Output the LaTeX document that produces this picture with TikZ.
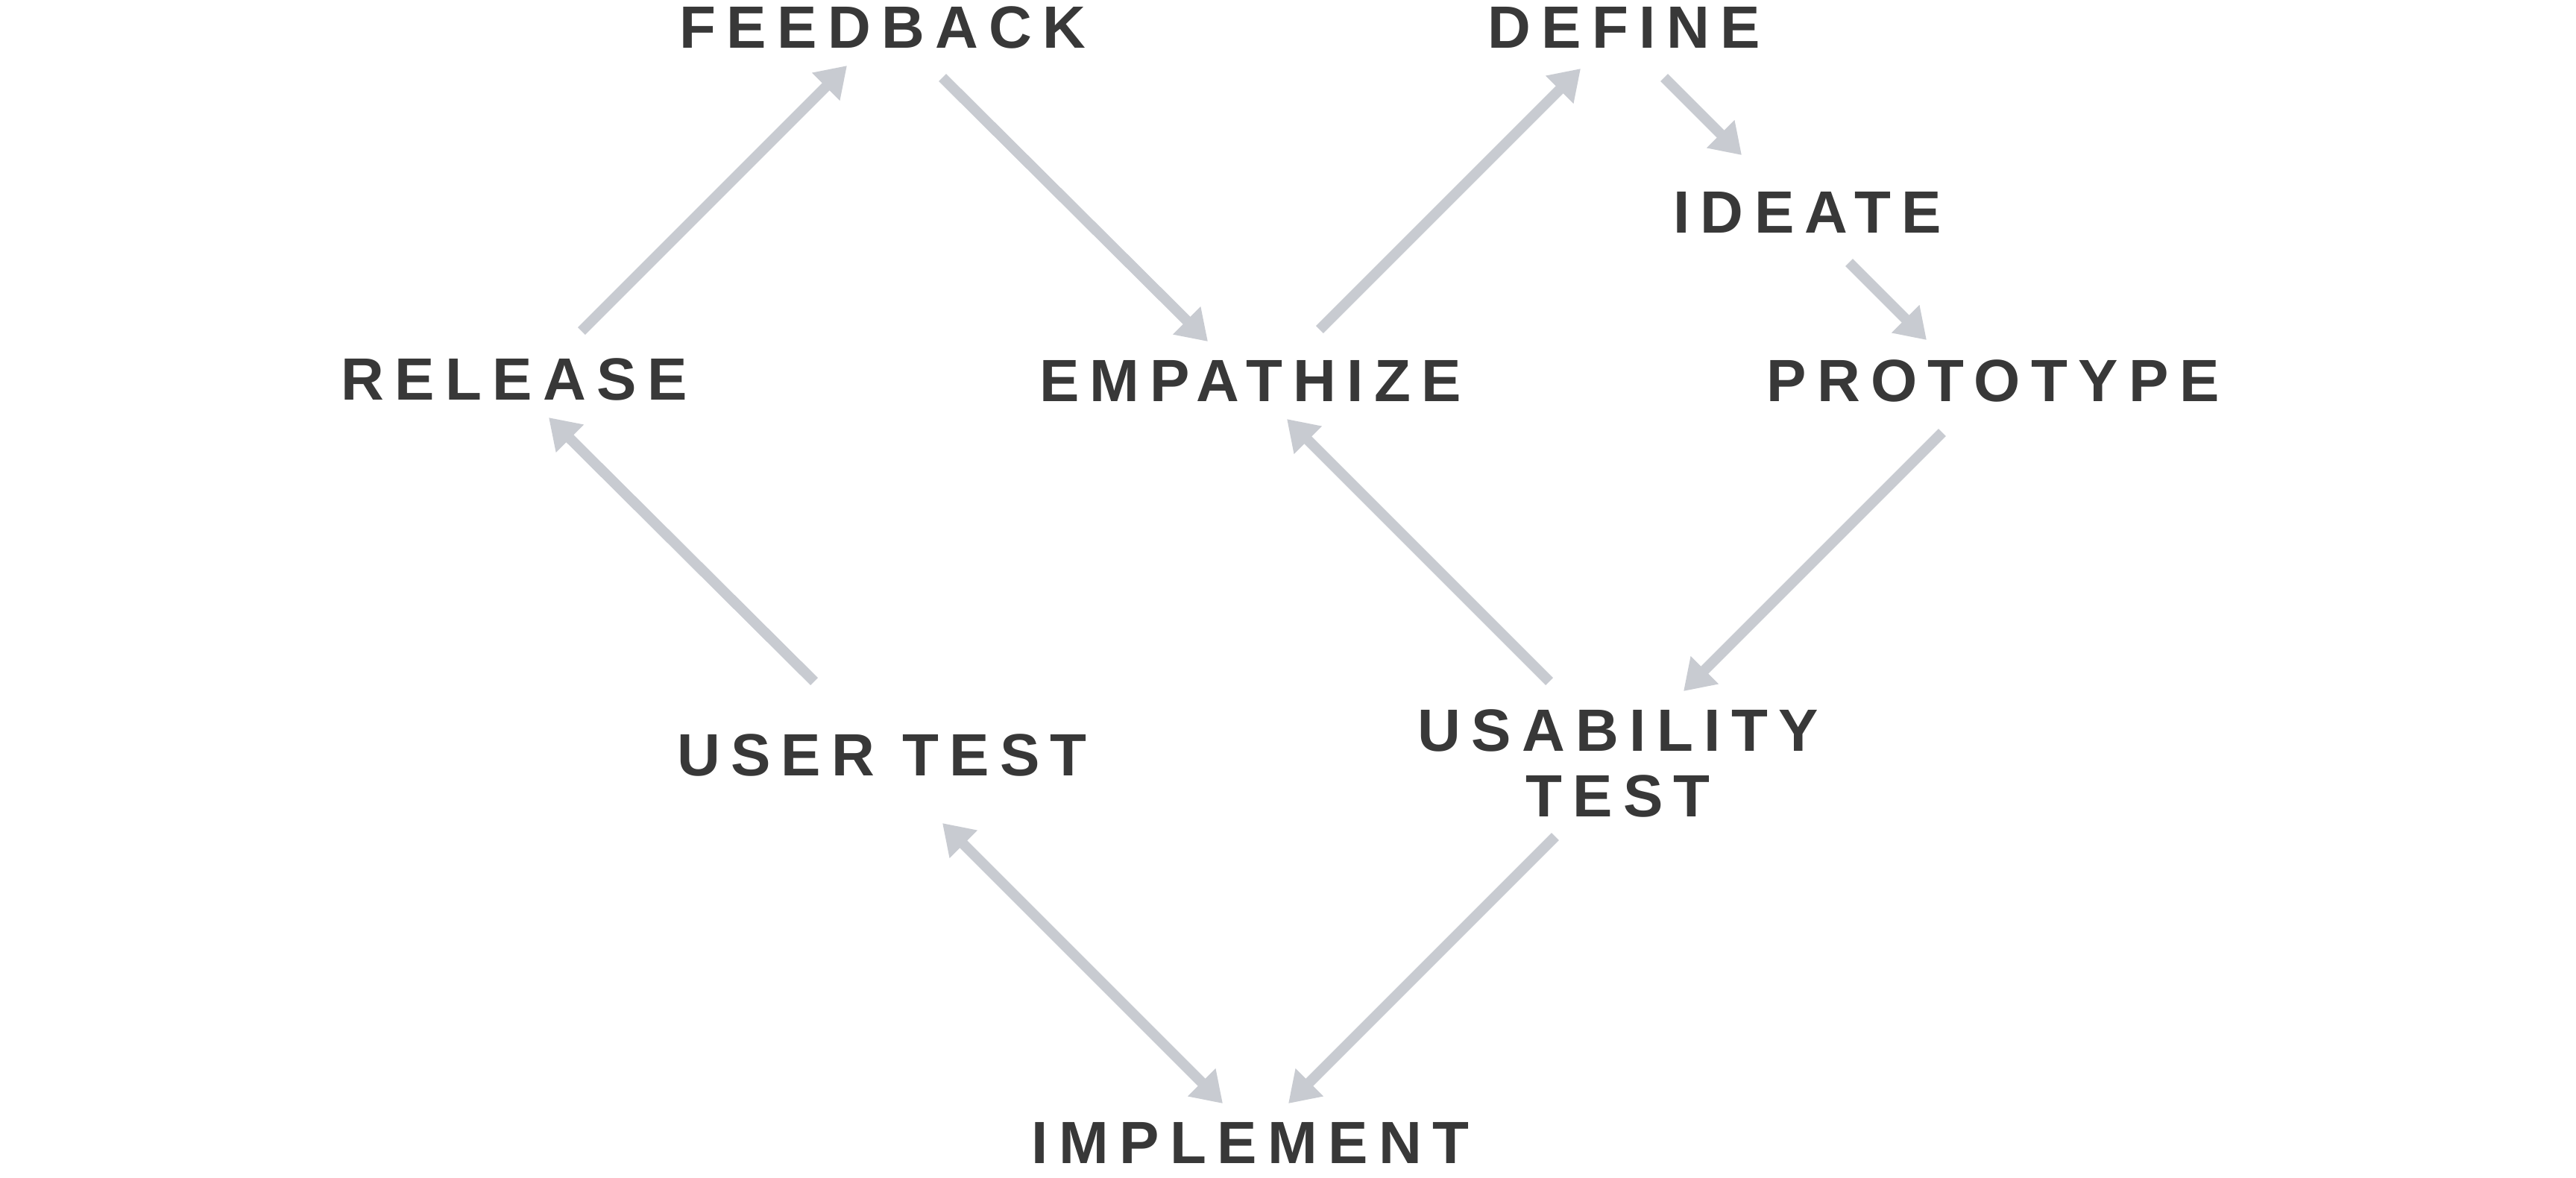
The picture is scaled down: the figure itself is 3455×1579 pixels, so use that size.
\documentclass[tikz,border=0pt]{standalone}
\usepackage{fontspec}
\setmainfont{Liberation Sans}[LetterSpace=18]
\usetikzlibrary{arrows.meta}
\definecolor{ink}{HTML}{383838}
\definecolor{arrowgray}{RGB}{200,203,209}
\begin{document}
\begin{tikzpicture}[x=0.2pt, y=-0.2pt,
  stage/.style={text=ink, font=\fontsize{16}{17.6}\selectfont\bfseries, inner sep=0pt, anchor=base},
  link/.style={draw=arrowgray, line width=2.8pt, -{Triangle[length=8pt,width=10pt]}},
  dlink/.style={draw=arrowgray, line width=2.8pt, {Triangle[length=8pt,width=10pt]}-{Triangle[length=8pt,width=10pt]}}]
\fill[white] (0,0) rectangle (3455,1579);
\useasboundingbox (0,0) rectangle (3455,1579);

\node[stage] (feedback) at (1184,64) {FEEDBACK};
\node[stage] (define) at (2178,64) {DEFINE};
\node[stage] (ideate) at (2424,312) {IDEATE};
\node[stage] (release) at (690,536) {RELEASE};
\node[stage] (empathize) at (1677,538) {EMPATHIZE};
\node[stage] (prototype) at (2673,538) {PROTOTYPE};
\node[stage] (usertest) at (1183,1040) {USER TEST};
\node[stage, anchor=center, align=center] (usability) at (2170,1024) {USABILITY\\TEST};
\node[stage] (implement) at (1677,1560) {IMPLEMENT};

\draw[link] ([shift={(90,-92)}]release.base) -- ([shift={(-48,24)}]feedback.base);
\draw[link] ([shift={(80,40)}]feedback.base) -- ([shift={(-57,-80)}]empathize.base);
\draw[link] ([shift={(93,-96)}]empathize.base) -- ([shift={(-58,28)}]define.base);
\draw[link] ([shift={(54,40)}]define.base) -- ([shift={(-88,-104)}]ideate.base);
\draw[link] ([shift={(56,40)}]ideate.base) -- ([shift={(-89,-82)}]prototype.base);
\draw[link] ([shift={(-68,42)}]prototype.base) -- ([shift={(88,-97)}]usability.center);
\draw[link] ([shift={(-92,-110)}]usability.center) -- ([shift={(49,24)}]empathize.base);
\draw[link] ([shift={(-84,98)}]usability.center) -- ([shift={(51,-80)}]implement.base);
\draw[dlink] ([shift={(81,64)}]usertest.base) -- ([shift={(-37,-80)}]implement.base);
\draw[link] ([shift={(-91,-126)}]usertest.base) -- ([shift={(46,24)}]release.base);
\end{tikzpicture}
\end{document}
